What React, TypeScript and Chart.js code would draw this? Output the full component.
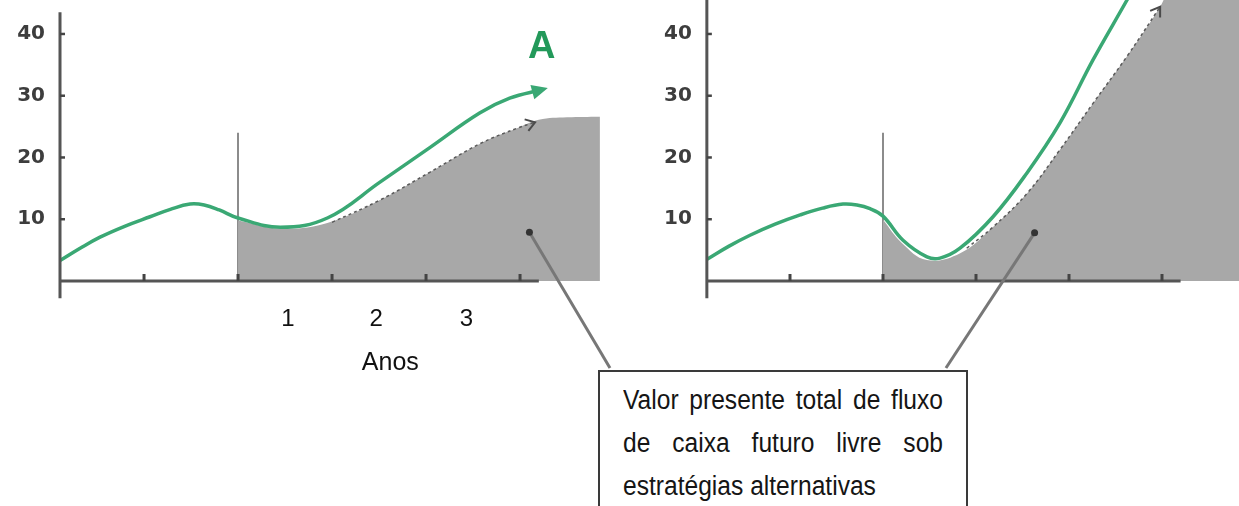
import React, { useEffect, useRef } from "react";
import { Chart, registerables } from "chart.js";

Chart.register(...registerables);

// ---------- data: x in years from "today" (0), y in chart value units ----------
const leftGreenYears = [-1.894, -1.68, -1.468, -1.2, -0.936, -0.72, -0.51, -0.36, -0.2, 0, 0.45, 0.95, 1.51, 2.04, 2.57, 2.89, 3.234];
const leftGreenValues = [3.3, 5.3, 7.1, 8.9, 10.4, 11.6, 12.45, 12.3, 11.5, 10.2, 8.7, 10.2, 16.0, 21.6, 27.2, 29.6, 31.0];

const leftGrayYears = [0, 0.45, 0.95, 1.51, 2.04, 2.57, 2.98, 3.2, 3.5, 3.85];
const leftGrayValues = [9.8, 8.5, 9.4, 13.1, 17.6, 22.2, 24.8, 26.1, 26.5, 26.6];

const leftDashYears = [1.0, 1.51, 2.04, 2.57, 2.98, 3.16];
const leftDashValues = [9.5, 13.1, 17.6, 22.2, 24.8, 25.7];

const rightGreenYears = [-1.892, -1.66, -1.43, -1.16, -0.89, -0.65, -0.43, -0.28, -0.14, 0, 0.215, 0.473, 0.613, 0.828, 1.183, 1.548, 1.903, 2.258, 2.624, 2.9];
const rightGreenValues = [3.5, 5.6, 7.4, 9.2, 10.7, 11.8, 12.45, 12.3, 11.7, 10.5, 6.6, 3.9, 3.7, 5.3, 10.4, 17.5, 25.6, 35.8, 45.5, 53];

const rightGrayYears = [0, 0.2, 0.47, 0.83, 1.18, 1.55, 1.9, 2.26, 2.62, 2.98, 3.1, 3.83];
const rightGrayValues = [9.9, 6.2, 3.4, 4.5, 8.7, 14.2, 21.2, 28.8, 36.3, 44.4, 48, 60];

const rightDashYears = [0.9, 1.18, 1.55, 1.9, 2.26, 2.62, 2.98];
const rightDashValues = [5.3, 8.7, 14.2, 21.2, 28.8, 36.3, 44.4];

// ---------- axes / labels ----------
const xTickYears = [-1, 0, 1, 2, 3];
const yTickValues = [10, 20, 30, 40];
const yTickLabels = ["10", "20", "30", "40"];
const yearLabels = ["1", "2", "3"];
const yearLabelAt = [0.53, 1.47, 2.43];
const yearAxisTitle = "Anos";
const yearAxisTitleAt = 1.62;
const strategyLabel = "A";
const boxText = "Valor presente total de fluxo de caixa futuro livre sob estratégias alternativas";

const axisStartYear = -1.894;
const axisEndYear = 3.2;
const todayLineTop = 24;
const leftYAxisTop = 43.5;
const rightYAxisTop = 46;
const yAxisBottom = -2.8;

// callout pointers (year, value) on each panel, and where they meet the box
const leftPointer = [3.1, 7.9];
const rightPointer = [1.63, 7.8];
const leftCalloutEnd = [3.957, -14.1];
const rightCalloutEnd = [0.677, -14.1];

const GREEN = "#3aa874";
const GRAY_FILL = "#a8a8a8";
const AXIS = "#555555";

const pts = (xs: number[], ys: number[]) => xs.map((x, i) => ({ x, y: ys[i] }));

function arrowHead(
  ctx: CanvasRenderingContext2D,
  fx: number, fy: number, tx: number, ty: number,
  len: number, half: number, filled: boolean, color: string, lw = 2
) {
  const a = Math.atan2(ty - fy, tx - fx);
  const bx = tx - len * Math.cos(a);
  const by = ty - len * Math.sin(a);
  const nx = -Math.sin(a) * half;
  const ny = Math.cos(a) * half;
  ctx.beginPath();
  if (filled) {
    ctx.moveTo(tx, ty);
    ctx.lineTo(bx + nx, by + ny);
    ctx.lineTo(bx - nx, by - ny);
    ctx.closePath();
    ctx.fillStyle = color;
    ctx.fill();
  } else {
    ctx.moveTo(bx + nx, by + ny);
    ctx.lineTo(tx, ty);
    ctx.lineTo(bx - nx, by - ny);
    ctx.strokeStyle = color;
    ctx.lineWidth = lw;
    ctx.stroke();
  }
}

const overlayPlugin = {
  id: "overlay",
  beforeDatasetsDraw(chart: any) {
    const { ctx } = chart;
    const y = chart.scales.y;
    ctx.save();
    ctx.strokeStyle = "#8c8c8c";
    ctx.lineWidth = 2;
    for (const id of ["x1", "x2"]) {
      const s = chart.scales[id];
      const px = Math.round(s.getPixelForValue(0));
      ctx.beginPath();
      ctx.moveTo(px, y.getPixelForValue(todayLineTop));
      ctx.lineTo(px, y.getPixelForValue(0));
      ctx.stroke();
    }
    ctx.restore();
  },
  afterDatasetsDraw(chart: any) {
    const { ctx } = chart;
    const y = chart.scales.y;
    const y0 = y.getPixelForValue(0);
    ctx.save();

    const panels = [
      { s: chart.scales.x1, top: leftYAxisTop, green: [leftGreenYears, leftGreenValues], dash: [leftDashYears, leftDashValues], arrowGreen: true },
      { s: chart.scales.x2, top: rightYAxisTop, green: [rightGreenYears, rightGreenValues], dash: [rightDashYears, rightDashValues], arrowGreen: false },
    ];

    for (const p of panels) {
      const s = p.s;
      const ax = s.getPixelForValue(axisStartYear);
      ctx.strokeStyle = AXIS;
      ctx.lineWidth = 3;
      ctx.lineCap = "butt";
      ctx.beginPath();
      ctx.moveTo(ax, y0);
      ctx.lineTo(s.getPixelForValue(axisEndYear), y0);
      ctx.stroke();
      ctx.beginPath();
      ctx.moveTo(ax, y.getPixelForValue(p.top));
      ctx.lineTo(ax, y.getPixelForValue(yAxisBottom));
      ctx.stroke();
      ctx.strokeStyle = "#444";
      ctx.lineWidth = 3;
      for (const t of xTickYears) {
        const px = s.getPixelForValue(t);
        ctx.beginPath();
        ctx.moveTo(px, y0);
        ctx.lineTo(px, y0 - 7);
        ctx.stroke();
      }
      ctx.lineWidth = 2.5;
      ctx.fillStyle = "#3d3d3d";
      ctx.font = 'bold 20px "DejaVu Sans", sans-serif';
      ctx.textAlign = "right";
      ctx.textBaseline = "middle";
      yTickValues.forEach((v, i) => {
        const py = y.getPixelForValue(v);
        ctx.beginPath();
        ctx.moveTo(ax, py);
        ctx.lineTo(ax + 5, py);
        ctx.stroke();
        ctx.fillText(yTickLabels[i], ax - 15, py);
      });
      const dx = p.dash[0], dy = p.dash[1];
      const n = dx.length;
      arrowHead(
        ctx,
        s.getPixelForValue(dx[n - 2]), y.getPixelForValue(dy[n - 2]),
        s.getPixelForValue(dx[n - 1]), y.getPixelForValue(dy[n - 1]),
        9, 6, false, "#4a4a4a", 2
      );
      if (p.arrowGreen) {
        const gx = p.green[0], gy = p.green[1];
        const m = gx.length;
        const fx = s.getPixelForValue(gx[m - 2]), fy = y.getPixelForValue(gy[m - 2]);
        const lx = s.getPixelForValue(gx[m - 1]), ly = y.getPixelForValue(gy[m - 1]);
        const a = Math.atan2(ly - fy, lx - fx);
        const tx = lx + 6 * Math.cos(a), ty = ly + 6 * Math.sin(a);
        arrowHead(ctx, fx, fy, tx, ty, 16, 7.5, true, GREEN);
        ctx.fillStyle = "#23995a";
        ctx.font = 'bold 38px "Liberation Sans", Arial, sans-serif';
        ctx.textAlign = "center";
        ctx.textBaseline = "middle";
        ctx.fillText(strategyLabel, tx - 6, ty - 40);
      }
    }

    const x1 = chart.scales.x1;
    ctx.fillStyle = "#111";
    ctx.font = '24px "Liberation Sans", Arial, sans-serif';
    ctx.textAlign = "center";
    ctx.textBaseline = "middle";
    yearLabels.forEach((l, i) => ctx.fillText(l, x1.getPixelForValue(yearLabelAt[i]), y0 + 38));
    ctx.font = '25px "Liberation Sans", Arial, sans-serif';
    ctx.fillText(yearAxisTitle, x1.getPixelForValue(yearAxisTitleAt), y0 + 82);

    const callouts = [
      { s: chart.scales.x1, from: leftPointer, to: leftCalloutEnd },
      { s: chart.scales.x2, from: rightPointer, to: rightCalloutEnd },
    ];
    for (const c of callouts) {
      const fx = c.s.getPixelForValue(c.from[0]), fy = y.getPixelForValue(c.from[1]);
      const tx = c.s.getPixelForValue(c.to[0]), ty = y.getPixelForValue(c.to[1]);
      ctx.strokeStyle = "#777";
      ctx.lineWidth = 3;
      ctx.beginPath();
      ctx.moveTo(fx, fy);
      ctx.lineTo(tx, ty);
      ctx.stroke();
      ctx.fillStyle = "#333";
      ctx.beginPath();
      ctx.arc(fx, fy, 3.5, 0, Math.PI * 2);
      ctx.fill();
    }
    ctx.restore();
  },
};

export default function App() {
  const ref = useRef<HTMLCanvasElement | null>(null);

  useEffect(() => {
    if (!ref.current) return;
    const common = { pointRadius: 0, tension: 0.4, yAxisID: "y" };
    const chart = new Chart(ref.current, {
      type: "line",
      data: {
        datasets: [
          { ...common, label: "A (esq.)", xAxisID: "x1", data: pts(leftGreenYears, leftGreenValues), borderColor: GREEN, borderWidth: 3.5, fill: false, order: 0 },
          { ...common, label: "A (dir.)", xAxisID: "x2", data: pts(rightGreenYears, rightGreenValues), borderColor: GREEN, borderWidth: 3.5, fill: false, order: 0 },
          { ...common, label: "proj. esq.", xAxisID: "x1", data: pts(leftDashYears, leftDashValues), borderColor: "#5a5a5a", borderWidth: 1.5, borderDash: [3, 3], fill: false, order: 1 },
          { ...common, label: "proj. dir.", xAxisID: "x2", data: pts(rightDashYears, rightDashValues), borderColor: "#5a5a5a", borderWidth: 1.5, borderDash: [3, 3], fill: false, order: 1 },
          { ...common, label: "VP esq.", xAxisID: "x1", data: pts(leftGrayYears, leftGrayValues), borderWidth: 0, borderColor: GRAY_FILL, backgroundColor: GRAY_FILL, fill: "origin", order: 2 },
          { ...common, label: "VP dir.", xAxisID: "x2", data: pts(rightGrayYears, rightGrayValues), borderWidth: 0, borderColor: GRAY_FILL, backgroundColor: GRAY_FILL, fill: "origin", order: 2 },
        ],
      },
      options: {
        responsive: false,
        animation: false,
        devicePixelRatio: 1,
        layout: { padding: { left: 60, top: 0, right: 0, bottom: 206.5 } },
        scales: {
          x1: { type: "linear", display: false, min: -1.894, max: -1.894 + 1179 / 94 },
          x2: { type: "linear", display: false, min: (60 - 883) / 93, max: (1239 - 883) / 93 },
          y: { type: "linear", display: false, min: -3, max: 45.5 },
        },
        plugins: { legend: { display: false }, tooltip: { enabled: false } },
      },
      plugins: [overlayPlugin],
    });
    return () => chart.destroy();
  }, []);

  return (
    <div style={{ position: "fixed", left: 0, top: 0, width: 1239, height: 506, overflow: "hidden", background: "#fff" }}>
      <canvas ref={ref} width={1239} height={506} style={{ display: "block", width: 1239, height: 506 }} />
      <div
        style={{
          position: "absolute", left: 598, top: 370, width: 370, height: 200,
          boxSizing: "border-box", border: "2px solid #3a3a3a", background: "#fff",
        }}
      />
      <div
        style={{
          position: "absolute", left: 623, top: 378.5, width: 320,
          fontFamily: '"Liberation Sans", Arial, sans-serif', fontSize: 24.6, lineHeight: "38.4px",
          color: "#151515", textAlign: "justify", transform: "scaleY(1.12)", transformOrigin: "top left",
        }}
      >
        {boxText}
      </div>
    </div>
  );
}
